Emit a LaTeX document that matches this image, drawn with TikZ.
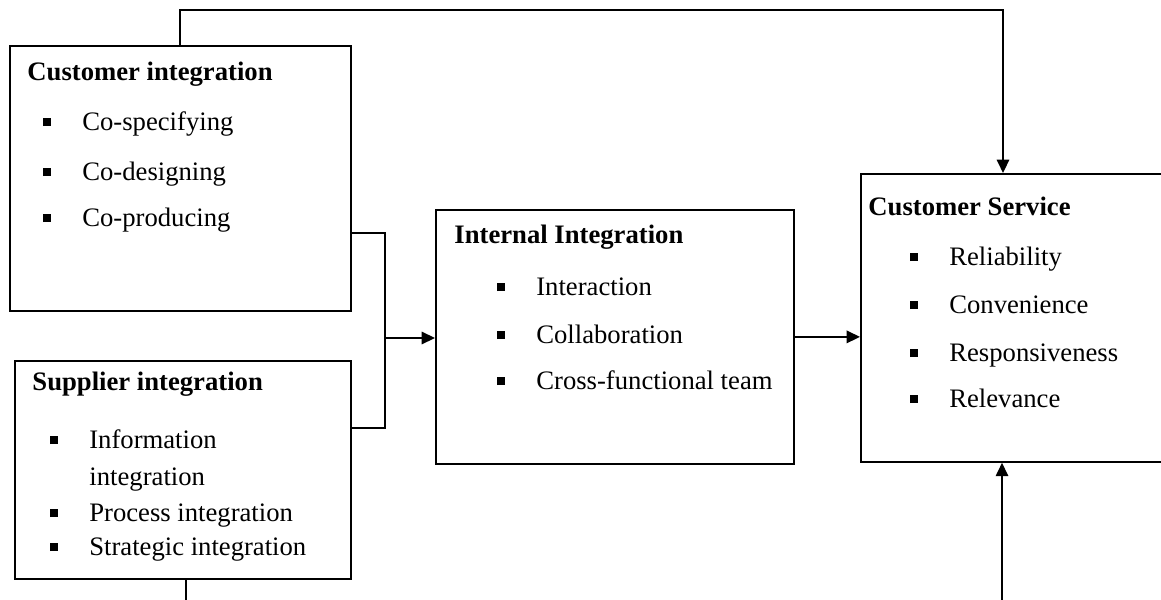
\documentclass[tikz,border=0pt]{standalone}
\usepackage{fontspec}
\setmainfont{Liberation Serif}
\usetikzlibrary{arrows.meta}
\newcommand{\sqb}{\rule[1.8pt]{3.6pt}{3.6pt}}
\newcommand{\itm}[1]{\makebox[17.5pt][l]{\sqb}#1}

\begin{document}
\begin{tikzpicture}[x=0.45pt,y={(0pt,-0.45pt)},font=\fontsize{12}{14}\selectfont]
	\tikzset{box/.style={draw, line width=0.8pt, inner sep=0pt, anchor=north west}}
	\tikzset{head/.style={anchor=base west, inner sep=0pt, font=\fontsize{12}{14}\selectfont\bfseries}}
	\tikzset{item/.style={anchor=base west, inner sep=0pt}}
	\tikzset{link/.style={line width=0.7pt}}
	\tikzset{arr/.style={link, -{Triangle[length=6pt,width=5.6pt]}}}
	\clip (0,0) rectangle (1161,599);
	% boxes
	\node[box, minimum width=153.45pt, minimum height=119.25pt] (cust) at (9,45) {};
	\node[box, minimum width=151.2pt, minimum height=98.1pt] (supp) at (14,360) {};
	\node[box, minimum width=161.1pt, minimum height=114.3pt] (intl) at (435,209) {};
	\node[box, minimum width=144pt, minimum height=129.6pt] (serv) at (860,173) {};
	% customer integration
	\node[head] (custhead) at (27,80) {Customer integration};
	\node[item] (cust1) at (43,130) {\itm{Co-specifying}};
	\node[item] (cust2) at (43,180) {\itm{Co-designing}};
	\node[item] (cust3) at (43,226) {\itm{Co-producing}};
	% supplier integration
	\node[head] (supphead) at (32,390) {Supplier integration};
	\node[item] (supp1) at (50,448) {\itm{Information}};
	\node[item] (supp1b) at (89,485) {integration};
	\node[item] (supp2) at (50,521) {\itm{Process integration}};
	\node[item] (supp3) at (50,555) {\itm{Strategic integration}};
	% internal integration
	\node[head] (intlhead) at (454,243) {Internal Integration};
	\node[item] (intl1) at (497,295) {\itm{Interaction}};
	\node[item] (intl2) at (497,343) {\itm{Collaboration}};
	\node[item] (intl3) at (497,389) {\itm{Cross-functional team}};
	% customer service
	\node[head] (servhead) at (868,215) {Customer Service};
	\node[item] (serv1) at (910,265) {\itm{Reliability}};
	\node[item] (serv2) at (910,313) {\itm{Convenience}};
	\node[item] (serv3) at (910,361) {\itm{Responsiveness}};
	\node[item] (serv4) at (910,407) {\itm{Relevance}};
	% connectors
	\coordinate (top1) at (180,10);
	\coordinate (top2) at (1003,10);
	\coordinate (jtop) at (385,233);
	\coordinate (jbot) at (385,428);
	\coordinate (jmid) at (385,338);
	\coordinate (bot1) at (186,610);
	\coordinate (bot2) at (1002,610);
	\draw[arr] (cust.north -| top1) -- (top1) -- (top2) -- (serv.north -| top2);
	\draw[link] (cust.east |- jtop) -- (jtop) -- (jbot) -- (supp.east |- jbot);
	\draw[arr] (jmid) -- (intl.west |- jmid);
	\draw[arr] (intl.east) -- (serv.west |- intl.east);
	\draw[link] (supp.south -| bot1) -- (bot1);
	\draw[arr] (bot2) -- (serv.south -| bot2);
\end{tikzpicture}
\end{document}
